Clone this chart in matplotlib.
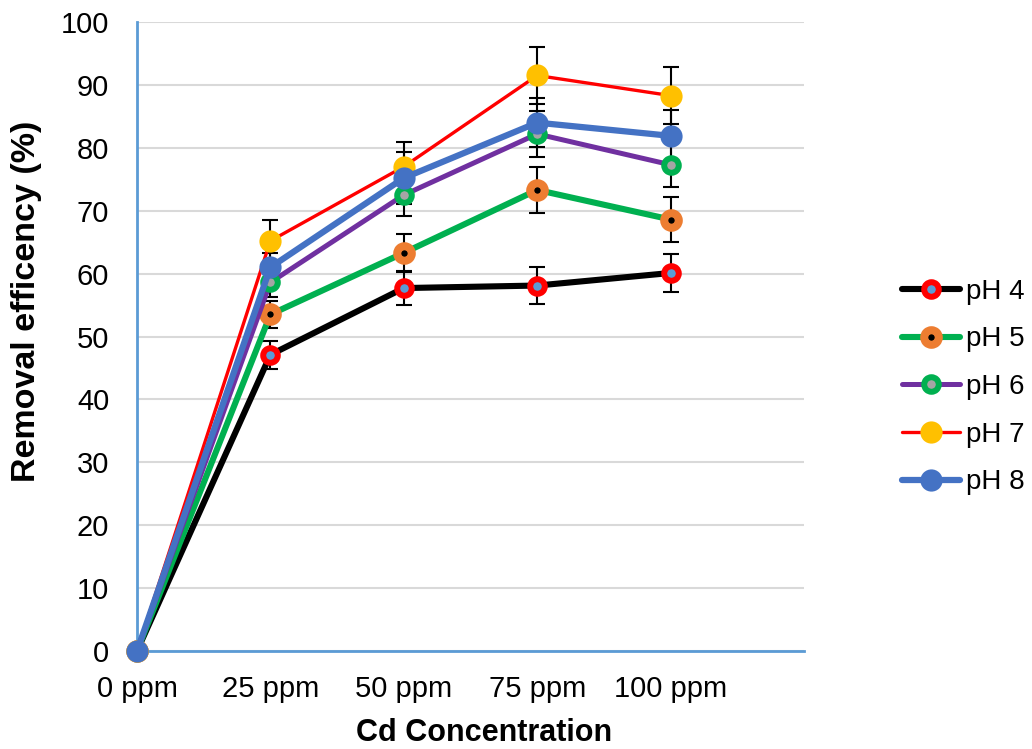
import matplotlib
matplotlib.use("Agg")
import matplotlib.pyplot as plt

plt.rcParams['font.family'] = ['Liberation Sans', 'DejaVu Sans']

# data
conc_labels = ['0 ppm', '25 ppm', '50 ppm', '75 ppm', '100 ppm']
ph4 = [0, 47.1, 57.7, 58.1, 60.1]
ph5 = [0, 53.5, 63.3, 73.3, 68.6]
ph6 = [0, 58.6, 72.5, 82.2, 77.3]
ph7 = [0, 65.2, 77.0, 91.5, 88.3]
ph8 = [0, 61.0, 75.2, 84.0, 81.9]
ph4_err = [0, 2.2, 2.7, 3.0, 3.0]
ph5_err = [0, 2.2, 3.0, 3.6, 3.5]
ph6_err = [0, 2.3, 3.3, 3.7, 3.6]
ph7_err = [0, 3.4, 4.0, 4.5, 4.5]
ph8_err = [0, 2.3, 4.1, 3.9, 4.1]
names = ['pH 4', 'pH 5', 'pH 6', 'pH 7', 'pH 8']

# line colour, line width, marker face, marker edge, marker size, edge width
styles = [
    ('#000000', 4.4, '#5B9BD5', '#FF0000', 10.5, 4.3),
    ('#00B050', 4.4, '#000000', '#ED7D31', 10.5, 5.8),
    ('#7030A0', 3.6, '#A5A5A5', '#00B050', 10.5, 4.3),
    ('#FF0000', 2.4, '#FFC000', '#FFC000', 16, 0),
    ('#4472C4', 4.5, '#4472C4', '#4472C4', 16, 0),
]

fig = plt.figure(figsize=(10.32, 7.49), dpi=100)
ax = fig.add_axes([137/1032, 1-651/749, (804-137)/1032, (651-22)/749])

x = list(range(len(conc_labels)))
series = [ph4, ph5, ph6, ph7, ph8]
errs = [ph4_err, ph5_err, ph6_err, ph7_err, ph8_err]

# error bars first, under the lines
for y, e in zip(series, errs):
    ax.errorbar(x[1:], y[1:], yerr=e[1:], fmt='none', ecolor='black',
                elinewidth=1.5, capsize=6, capthick=1.5, zorder=2)

for y, name, st in zip(series, names, styles):
    lc, lw, mfc, mec, ms, mew = st
    ax.plot(x, y, color=lc, lw=lw, marker='o', mfc=mfc, mec=mec, ms=ms,
            mew=mew, label=name, solid_capstyle='round',
            solid_joinstyle='round', zorder=5, clip_on=False)

ax.set_xlim(0, 5)
ax.set_ylim(0, 100)
ax.set_yticks(range(0, 101, 10))
ax.set_xticks(x)
ax.set_xticklabels(conc_labels)
ax.tick_params(axis='both', length=0, labelsize=21)
ax.tick_params(axis='y', pad=20)
ax.tick_params(axis='x', pad=17)
ax.grid(axis='y', color='#D9D9D9', lw=1.5, zorder=0)
ax.set_axisbelow(True)
for s in ['top', 'right']:
    ax.spines[s].set_visible(False)
for s in ['left', 'bottom']:
    ax.spines[s].set_color('#5B9BD5')
    ax.spines[s].set_linewidth(2)
    ax.spines[s].set_zorder(1)
ax.spines['left'].set_zorder(4)

fig.text(484/1032, 1-733/749, 'Cd Concentration', ha='center', va='center',
         fontsize=22, fontweight='bold')
fig.text(27/1032, 1-301/749, 'Removal efficency (%)', ha='center', va='center',
         rotation=90, fontsize=24.5, fontweight='bold')

fig.legend(loc='center left', bbox_to_anchor=(902/1032, 1-387/749),
           frameon=False, fontsize=20, handlelength=2.1, handletextpad=0.2,
           labelspacing=0.78, borderpad=0, borderaxespad=0, numpoints=1)

fig.savefig('out.png', dpi=100)
